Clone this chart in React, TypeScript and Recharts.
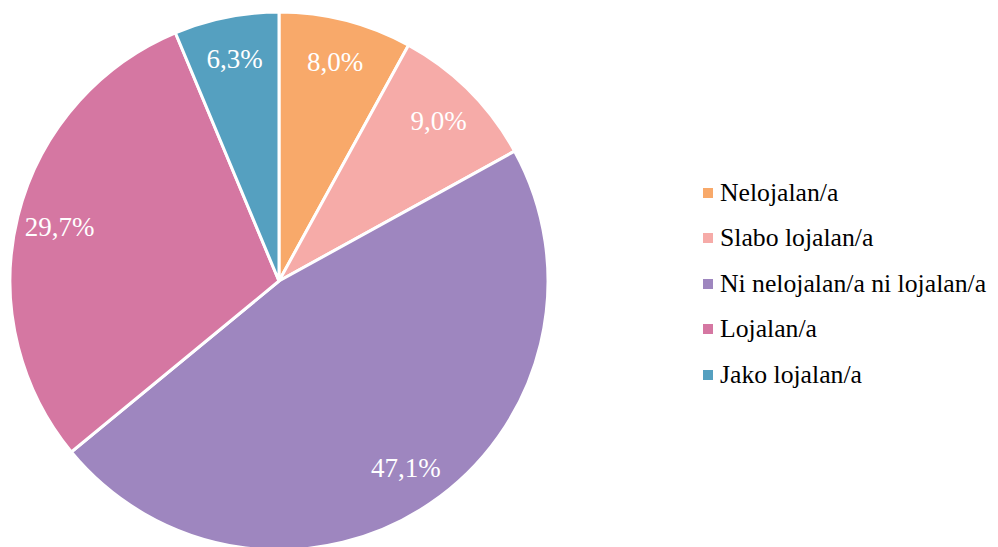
import { PieChart, Pie, Cell, Legend } from "recharts";

const categories = [
  "Nelojalan/a",
  "Slabo lojalan/a",
  "Ni nelojalan/a ni lojalan/a",
  "Lojalan/a",
  "Jako lojalan/a",
];
const shares = [8.0, 9.0, 47.1, 29.7, 6.3];
const colors = ["#F8A96A", "#F6ABA8", "#9E86BF", "#D577A2", "#55A0C0"];

const data = categories.map((name, i) => ({ name, value: shares[i] }));

const RADIAN = Math.PI / 180;
const FONT = "'Liberation Serif', 'Times New Roman', serif";

function renderLabel(props: any) {
  const { cx, cy, midAngle, outerRadius, value } = props;
  const r = outerRadius * 0.84;
  const x = cx + r * Math.cos(-midAngle * RADIAN);
  const y = cy + r * Math.sin(-midAngle * RADIAN);
  return (
    <text
      x={x}
      y={y}
      fill="#fff"
      textAnchor="middle"
      dominantBaseline="central"
      style={{ fontFamily: FONT, fontSize: "27px" }}
    >
      {value.toFixed(1).replace(".", ",") + "%"}
    </text>
  );
}

function LegendBox() {
  return (
    <div>
      {categories.map((c, i) => (
        <div key={c} style={{ display: "flex", alignItems: "center", height: 45.5 }}>
          <span
            style={{
              display: "inline-block",
              width: 10,
              height: 10,
              background: colors[i],
              marginRight: 7,
              flexShrink: 0,
            }}
          />
          <span style={{ fontFamily: FONT, fontSize: "25.7px", color: "#000", whiteSpace: "nowrap" }}>{c}</span>
        </div>
      ))}
    </div>
  );
}

export default function App() {
  return (
    <div style={{ position: "absolute", top: 0, left: 0, background: "#fff" }}>
      <PieChart width={998} height={547} margin={{ top: 0, right: 0, bottom: 0, left: 0 }}>
        <Pie
          data={data}
          dataKey="value"
          nameKey="name"
          cx={279}
          cy={281}
          outerRadius={269}
          startAngle={90}
          endAngle={-270}
          stroke="#fff"
          strokeWidth={3}
          labelLine={false}
          label={renderLabel}
          isAnimationActive={false}
        >
          {data.map((d, i) => (
            <Cell key={d.name} fill={colors[i]} />
          ))}
        </Pie>
        <Legend
          content={<LegendBox />}
          wrapperStyle={{ left: 703, top: 170, width: 295 }}
        />
      </PieChart>
    </div>
  );
}
